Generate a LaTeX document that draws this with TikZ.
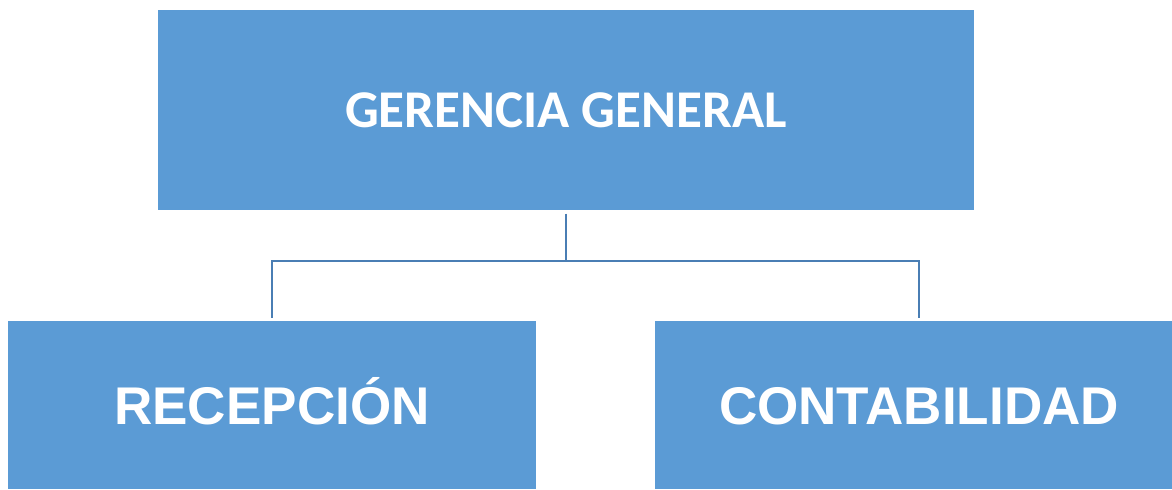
\documentclass[tikz,border=0pt]{standalone}
\usepackage{fontspec}
\usepackage{xcolor}
\usepackage{tikz}
\newfontfamily\tituloFont{Carlito}
\newfontfamily\areaFont{Liberation Sans}
\definecolor{cajaAzul}{HTML}{5B9BD5}
\definecolor{lineaAzul}{HTML}{4A7EB4}

\begin{document}
\begin{tikzpicture}[x=0.1mm, y=-0.1mm]
		% Define the styles for the boxes and lines
		\tikzstyle{caja}=[rectangle, fill=cajaAzul, draw=none, text=white, text centered, inner sep=0pt]
		\tikzstyle{titulo}=[caja, font=\tituloFont\bfseries\fontsize{15.1}{17}\selectfont, text height=9.7pt, text depth=0pt]
		\tikzstyle{area}=[caja, font=\areaFont\bfseries\fontsize{15.1}{17}\selectfont, text height=10.8pt, text depth=0pt, minimum width=52.8mm, minimum height=16.8mm]
		\tikzstyle{linea}=[draw=lineaAzul, line width=0.2mm]

		\useasboundingbox (0,0) rectangle (1172,489);
		\clip (0,0) rectangle (1172,489);

		% Define nodes
		\node (gerencia) [titulo, minimum width=81.6mm, minimum height=20mm] at (566,110) {GERENCIA GENERAL};
		\node (recepcion) [area] at (272,405) {RECEPCIÓN};
		\node (contabilidad) [area] at (919,405) {CONTABILIDAD};
		\coordinate (rama) at (566,261);

		% Define edges
		\draw[linea, shorten <=0.3mm] (gerencia.south) -- (rama);
		\draw[linea, shorten >=0.2mm] (rama) -| (recepcion.north);
		\draw[linea, shorten >=0.2mm] (rama) -| (contabilidad.north);
	\end{tikzpicture}
\end{document}
